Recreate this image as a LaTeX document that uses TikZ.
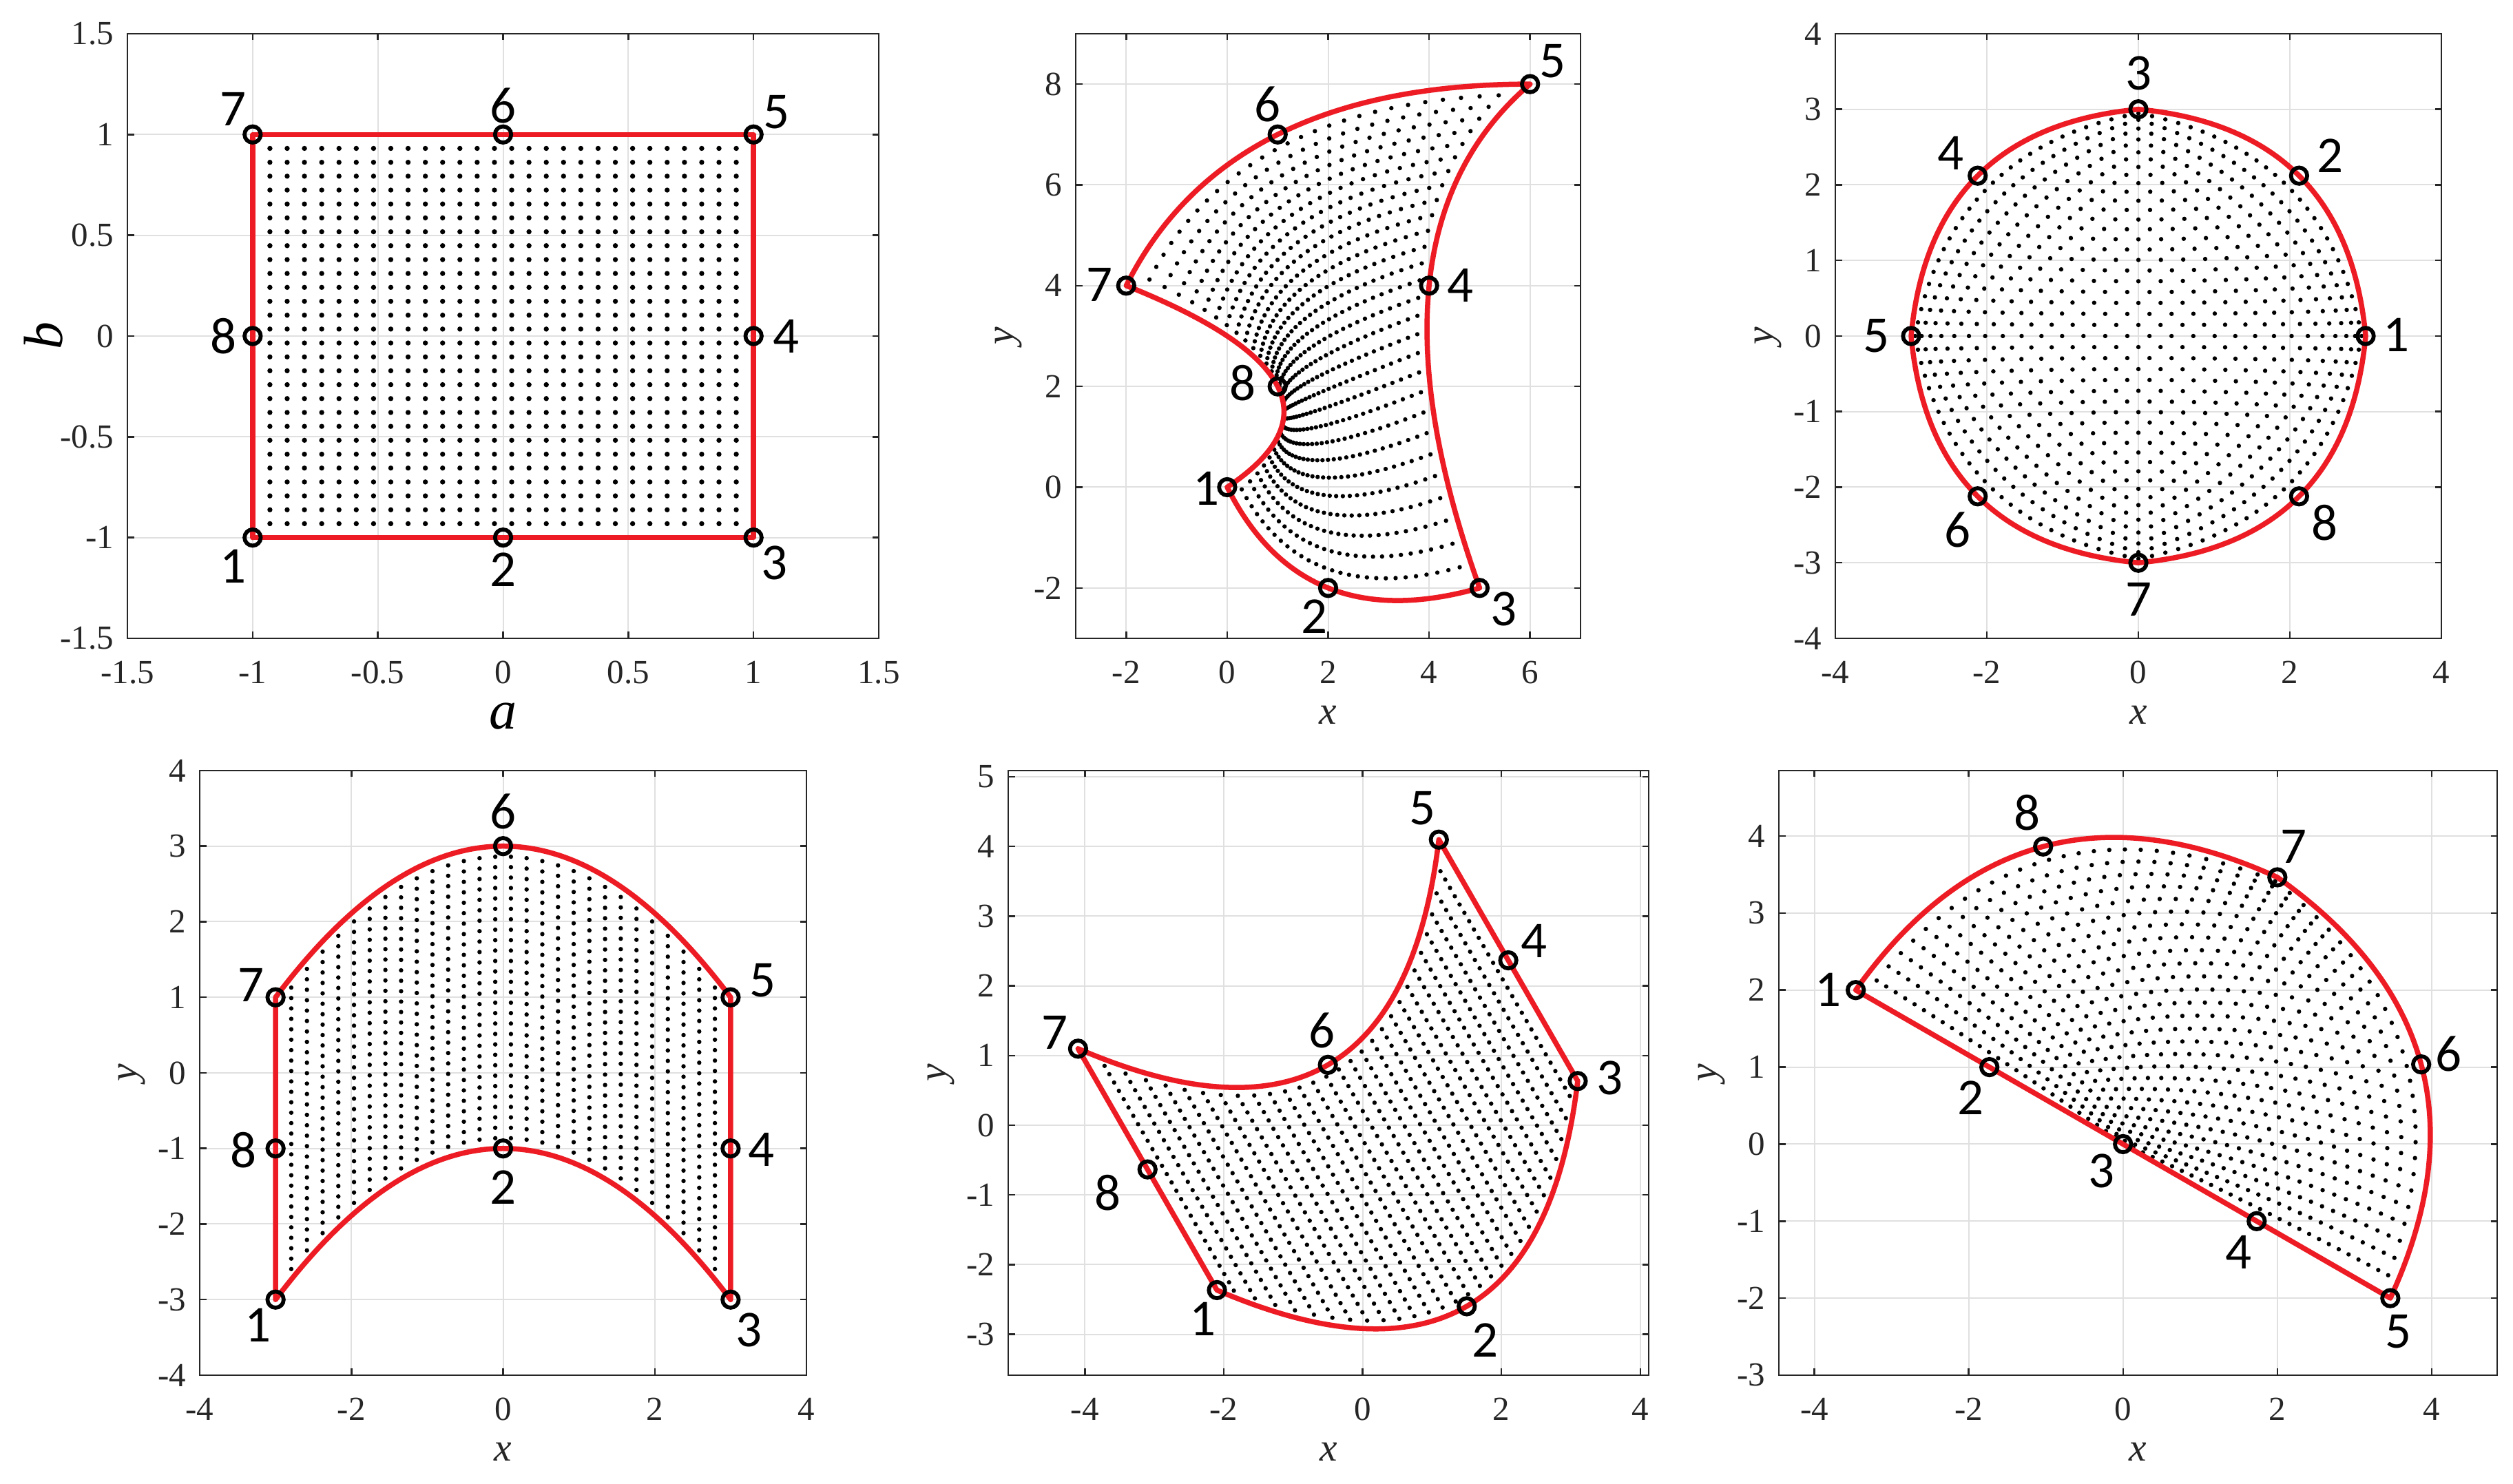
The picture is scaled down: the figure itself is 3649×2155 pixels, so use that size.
\documentclass[tikz,border=0pt]{standalone}
\usepackage{fontspec}
\setmainfont{Liberation Serif}
\newfontfamily\lblfont{Carlito}
\usetikzlibrary{calc}
\definecolor{mred}{RGB}{237,28,36}
\definecolor{mgrid}{RGB}{224,224,224}
\definecolor{maxis}{RGB}{38,38,38}
\tikzset{
  gridline/.style={draw=mgrid, line width=0.4pt},
  axbox/.style={draw=maxis, line width=0.55pt},
  tickmark/.style={draw=maxis, line width=0.5pt},
  xtl/.style={anchor=north, inner sep=0pt, text=maxis, font=\fontsize{9.8}{11}\selectfont, yshift=-6.4pt},
  ytl/.style={anchor=east, inner sep=0pt, text=maxis, font=\fontsize{9.8}{11}\selectfont, xshift=-3.8pt},
  axlbl/.style={inner sep=0pt, text=maxis, font=\fontsize{11.5}{13}\selectfont\itshape},
  biglbl/.style={inner sep=0pt, text=black, font=\fontsize{16}{18}\selectfont\itshape},
  redline/.style={draw=mred, line width=1.5pt, line join=round, line cap=round},
  nodemark/.style={circle, draw=black, line width=1.15pt, minimum size=4.7pt, inner sep=0pt},
  numlbl/.style={inner sep=0pt, text=black, font=\fontsize{15}{17}\selectfont\lblfont},
}
% axes geometry: L R T B (image px, y from top), xmin xmax ymin ymax
\newcommand\setaxes[8]{%
  \def\xmin{#5}\def\xmax{#6}\def\ymin{#7}\def\ymax{#8}%
  \pgfmathsetmacro\xmid{((#5)+(#6))/2}%
  \pgfmathsetmacro\ymid{((#7)+(#8))/2}%
  \pgfmathsetmacro\sxv{(#2-#1)/((#6)-(#5))}%
  \pgfmathsetmacro\syv{(#4-#3)/((#8)-(#7))}%
  \pgfmathsetlengthmacro\sxd{\sxv*0.2pt}%
  \pgfmathsetlengthmacro\syd{\syv*0.2pt}%
  \pgfmathsetlengthmacro\oxd{(#1-(#5)*\sxv)*0.2pt}%
  \pgfmathsetlengthmacro\oyd{(2155-#4-(#7)*\syv)*0.2pt}%
}
% serendipity coefficients of one component
\newcommand\shapecoef[8]{%
  \pgfmathsetmacro\Kc{-((#1)+(#3)+(#5)+(#7))/4+((#2)+(#4)+(#6)+(#8))/2}%
  \pgfmathsetmacro\Ka{((#4)-(#8))/2}%
  \pgfmathsetmacro\Kb{((#6)-(#2))/2}%
  \pgfmathsetmacro\Kaa{((#1)+(#3)+(#5)+(#7))/4-((#2)+(#6))/2}%
  \pgfmathsetmacro\Kbb{((#1)+(#3)+(#5)+(#7))/4-((#4)+(#8))/2}%
  \pgfmathsetmacro\Kab{((#1)-(#3)+(#5)-(#7))/4}%
  \pgfmathsetmacro\Kaab{(-(#1)-(#3)+(#5)+(#7))/4+((#2)-(#6))/2}%
  \pgfmathsetmacro\Kabb{(-(#1)+(#3)+(#5)-(#7))/4+((#8)-(#4))/2}%
}
\newcommand\savexcoef{%
  \let\XKc\Kc\let\XKa\Ka\let\XKb\Kb\let\XKaa\Kaa
  \let\XKbb\Kbb\let\XKab\Kab\let\XKaab\Kaab\let\XKabb\Kabb}
\newcommand\dotfield{%
  \foreach \jj in {1,...,28}{%
    \pgfmathsetmacro\qb{-1+2*\jj/29}%
    \pgfmathsetmacro\xA{(\XKc)+(\qb)*((\XKb)+(\qb)*(\XKbb))}%
    \pgfmathsetmacro\xB{(\XKa)+(\qb)*((\XKab)+(\qb)*(\XKabb))}%
    \pgfmathsetmacro\xC{(\XKaa)+(\XKaab)*(\qb)}%
    \pgfmathsetmacro\yA{(\Kc)+(\qb)*((\Kb)+(\qb)*(\Kbb))}%
    \pgfmathsetmacro\yB{(\Ka)+(\qb)*((\Kab)+(\qb)*(\Kabb))}%
    \pgfmathsetmacro\yC{(\Kaa)+(\Kaab)*(\qb)}%
    \fill[black] \foreach \ii in {1,...,28}{
      ({(\xA)+(-1+2*\ii/29)*((\xB)+(-1+2*\ii/29)*(\xC))},{(\yA)+(-1+2*\ii/29)*((\yB)+(-1+2*\ii/29)*(\yC))}) circle[radius=\dotr]};%
  }%
}
\newcommand\boundary[1]{%
  \draw[redline] (#11) .. controls ($(#12)!-1/3!(#13)$) and ($(#12)!-1/3!(#11)$) .. (#13)
    .. controls ($(#14)!-1/3!(#15)$) and ($(#14)!-1/3!(#13)$) .. (#15)
    .. controls ($(#16)!-1/3!(#17)$) and ($(#16)!-1/3!(#15)$) .. (#17)
    .. controls ($(#18)!-1/3!(#11)$) and ($(#18)!-1/3!(#17)$) .. (#11);
  \foreach \nn in {1,...,8}{\node[nodemark] (#1m\nn) at (#1\nn) {};}%
}
\newcommand\lbl[4]{\node[numlbl] (#1#2t) at ([shift={(#3*0.2pt,#4*0.2pt)}]#1#2) {#2};}
\newcommand\drawgrid[2]{%
  \foreach \tv in {#1}{\draw[gridline] (\tv,\ymin) -- (\tv,\ymax);}%
  \foreach \tv in {#2}{\draw[gridline] (\xmin,\tv) -- (\xmax,\tv);}%
}
\newcommand\drawframe[3]{%
  \foreach \tv [count=\kk] in {#2}{%
    \draw[tickmark] (\tv,\ymin) -- ++(0,1.9pt);
    \draw[tickmark] (\tv,\ymax) -- ++(0,-1.9pt);
    \node[xtl] (#1xt\kk) at (\tv,\ymin) {\tv};}%
  \foreach \tv [count=\kk] in {#3}{%
    \draw[tickmark] (\xmin,\tv) -- ++(1.9pt,0);
    \draw[tickmark] (\xmax,\tv) -- ++(-1.9pt,0);
    \node[ytl] (#1yt\kk) at (\xmin,\tv) {\tv};}%
  \draw[axbox] (\xmin,\ymin) rectangle (\xmax,\ymax);
}
\newcommand\xylabels[1]{%
  \node[axlbl] (#1xl) at ([yshift=-22.2pt]\xmid,\ymin) {x};
  \node[axlbl,rotate=90] (#1yl) at ([xshift=-19.6pt]\xmin,\ymid) {y};
}
\begin{document}
\begin{tikzpicture}[x=0.2pt,y=0.2pt]
\fill[white] (0,0) rectangle (3649,2155);
\useasboundingbox (0,0) rectangle (3649,2155);

% ---------- panel 1 ----------
\setaxes{185}{1276}{49}{927}{-1.5}{1.5}{-1.5}{1.5}
\begin{scope}[shift={(\oxd,\oyd)},x=\sxd,y=\syd]
  \drawgrid{-1.5,-1,-0.5,0,0.5,1,1.5}{-1.5,-1,-0.5,0,0.5,1,1.5}
  \coordinate (A1) at (-1,-1); \coordinate (A2) at (0,-1);
  \coordinate (A3) at (1,-1);  \coordinate (A4) at (1,0);
  \coordinate (A5) at (1,1);   \coordinate (A6) at (0,1);
  \coordinate (A7) at (-1,1);  \coordinate (A8) at (-1,0);
  \shapecoef{-1}{0}{1}{1}{1}{0}{-1}{-1}\savexcoef
  \shapecoef{-1}{-1}{-1}{0}{1}{1}{1}{0}
  \def\dotr{0.74pt}\dotfield
  \boundary{A}
  \lbl{A}{1}{-28}{-42}\lbl{A}{2}{0}{-47}\lbl{A}{3}{30}{-37}\lbl{A}{4}{47}{0}
  \lbl{A}{5}{33}{33}\lbl{A}{6}{0}{42}\lbl{A}{7}{-28}{37}\lbl{A}{8}{-42}{0}
  \drawframe{A}{-1.5,-1,-0.5,0,0.5,1,1.5}{-1.5,-1,-0.5,0,0.5,1,1.5}
  \node[biglbl] (Axl) at ([yshift=-22.6pt]0,\ymin) {a};
  \node[biglbl,rotate=90] (Ayl) at ([xshift=-24.4pt]\xmin,0) {b};
\end{scope}

% ---------- panel 2 ----------
\setaxes{1562}{2295}{49}{927}{-3}{7}{-3}{9}
\begin{scope}[shift={(\oxd,\oyd)},x=\sxd,y=\syd]
  \drawgrid{-2,0,2,4,6}{-2,0,2,4,6,8}
  \coordinate (B1) at (0,0);  \coordinate (B2) at (2,-2);
  \coordinate (B3) at (5,-2); \coordinate (B4) at (4,4);
  \coordinate (B5) at (6,8);  \coordinate (B6) at (1,7);
  \coordinate (B7) at (-2,4); \coordinate (B8) at (1,2);
  \shapecoef{0}{2}{5}{4}{6}{1}{-2}{1}\savexcoef
  \shapecoef{0}{-2}{-2}{4}{8}{7}{4}{2}
  \def\dotr{0.64pt}\dotfield
  \boundary{B}
  \lbl{B}{1}{-30}{-2}\lbl{B}{2}{-20}{-41}\lbl{B}{3}{35}{-31}\lbl{B}{4}{45}{0}
  \lbl{B}{5}{33}{33}\lbl{B}{6}{-15}{44}\lbl{B}{7}{-39}{1}\lbl{B}{8}{-51}{5}
  \drawframe{B}{-2,0,2,4,6}{-2,0,2,4,6,8}
  \xylabels{B}
\end{scope}

% ---------- panel 3 ----------
\setaxes{2665}{3545}{49}{927}{-4}{4}{-4}{4}
\begin{scope}[shift={(\oxd,\oyd)},x=\sxd,y=\syd]
  \drawgrid{-4,-2,0,2,4}{-4,-3,-2,-1,0,1,2,3,4}
  \coordinate (C1) at (3,0);             \coordinate (C2) at (2.12132,2.12132);
  \coordinate (C3) at (0,3);             \coordinate (C4) at (-2.12132,2.12132);
  \coordinate (C5) at (-3,0);            \coordinate (C6) at (-2.12132,-2.12132);
  \coordinate (C7) at (0,-3);            \coordinate (C8) at (2.12132,-2.12132);
  \shapecoef{3}{2.12132}{0}{-2.12132}{-3}{-2.12132}{0}{2.12132}\savexcoef
  \shapecoef{0}{2.12132}{3}{2.12132}{0}{-2.12132}{-3}{-2.12132}
  \def\dotr{0.64pt}\dotfield
  \boundary{C}
  \lbl{C}{1}{44}{2}\lbl{C}{2}{45}{29}\lbl{C}{3}{0}{52}\lbl{C}{4}{-39}{33}
  \lbl{C}{5}{-51}{0}\lbl{C}{6}{-29}{-49}\lbl{C}{7}{0}{-53}\lbl{C}{8}{37}{-38}
  \drawframe{C}{-4,-2,0,2,4}{-4,-3,-2,-1,0,1,2,3,4}
  \xylabels{C}
\end{scope}

% ---------- panel 4 ----------
\setaxes{290}{1171}{1119}{1997}{-4}{4}{-4}{4}
\begin{scope}[shift={(\oxd,\oyd)},x=\sxd,y=\syd]
  \drawgrid{-4,-2,0,2,4}{-4,-3,-2,-1,0,1,2,3,4}
  \coordinate (D1) at (-3,-3); \coordinate (D2) at (0,-1);
  \coordinate (D3) at (3,-3);  \coordinate (D4) at (3,-1);
  \coordinate (D5) at (3,1);   \coordinate (D6) at (0,3);
  \coordinate (D7) at (-3,1);  \coordinate (D8) at (-3,-1);
  \shapecoef{-3}{0}{3}{3}{3}{0}{-3}{-3}\savexcoef
  \shapecoef{-3}{-1}{-3}{-1}{1}{3}{1}{-1}
  \def\dotr{0.64pt}\dotfield
  \boundary{D}
  \lbl{D}{1}{-26}{-37}\lbl{D}{2}{0}{-56}\lbl{D}{3}{27}{-44}\lbl{D}{4}{45}{-2}
  \lbl{D}{5}{47}{25}\lbl{D}{6}{0}{50}\lbl{D}{7}{-36}{18}\lbl{D}{8}{-47}{-2}
  \drawframe{D}{-4,-2,0,2,4}{-4,-3,-2,-1,0,1,2,3,4}
  \xylabels{D}
\end{scope}

% ---------- panel 5 ----------
\setaxes{1464}{2394}{1119}{1997}{-5.104}{4.121}{-3.587}{5.089}
\begin{scope}[shift={(\oxd,\oyd)},x=\sxd,y=\syd]
  \drawgrid{-4,-2,0,2,4}{-3,-2,-1,0,1,2,3,4,5}
  \coordinate (E1) at (-2.0981,-2.3660); \coordinate (E2) at (1.5,-2.5981);
  \coordinate (E3) at (3.0981,0.6340);   \coordinate (E4) at (2.0981,2.3660);
  \coordinate (E5) at (1.0981,4.0981);   \coordinate (E6) at (-0.5,0.8660);
  \coordinate (E7) at (-4.0981,1.0981);  \coordinate (E8) at (-3.0981,-0.6340);
  \shapecoef{-2.0981}{1.5}{3.0981}{2.0981}{1.0981}{-0.5}{-4.0981}{-3.0981}\savexcoef
  \shapecoef{-2.3660}{-2.5981}{0.6340}{2.3660}{4.0981}{0.8660}{1.0981}{-0.6340}
  \def\dotr{0.64pt}\dotfield
  \boundary{E}
  \lbl{E}{1}{-21}{-42}\lbl{E}{2}{27}{-49}\lbl{E}{3}{47}{4}\lbl{E}{4}{37}{28}
  \lbl{E}{5}{-24}{46}\lbl{E}{6}{-9}{50}\lbl{E}{7}{-34}{23}\lbl{E}{8}{-58}{-34}
  \drawframe{E}{-4,-2,0,2,4}{-3,-2,-1,0,1,2,3,4,5}
  \xylabels{E}
\end{scope}

% ---------- panel 6 ----------
\setaxes{2583}{3626}{1119}{1997}{-4.46}{4.849}{-3}{4.85}
\begin{scope}[shift={(\oxd,\oyd)},x=\sxd,y=\syd]
  \drawgrid{-4,-2,0,2,4}{-3,-2,-1,0,1,2,3,4}
  \coordinate (F1) at (-3.4641,2);       \coordinate (F2) at (-1.7321,1);
  \coordinate (F3) at (0,0);             \coordinate (F4) at (1.7321,-1);
  \coordinate (F5) at (3.4641,-2);       \coordinate (F6) at (3.8637,1.0353);
  \coordinate (F7) at (2,3.4641);        \coordinate (F8) at (-1.0353,3.8637);
  \shapecoef{-3.4641}{-1.7321}{0}{1.7321}{3.4641}{3.8637}{2}{-1.0353}\savexcoef
  \shapecoef{2}{1}{0}{-1}{-2}{1.0353}{3.4641}{3.8637}
  \def\dotr{0.64pt}\dotfield
  \boundary{F}
  \lbl{F}{1}{-40}{0}\lbl{F}{2}{-27}{-45}\lbl{F}{3}{-31}{-39}\lbl{F}{4}{-26}{-45}
  \lbl{F}{5}{12}{-49}\lbl{F}{6}{40}{15}\lbl{F}{7}{24}{45}\lbl{F}{8}{-23}{49}
  \drawframe{F}{-4,-2,0,2,4}{-3,-2,-1,0,1,2,3,4}
  \xylabels{F}
\end{scope}
\end{tikzpicture}
\end{document}
